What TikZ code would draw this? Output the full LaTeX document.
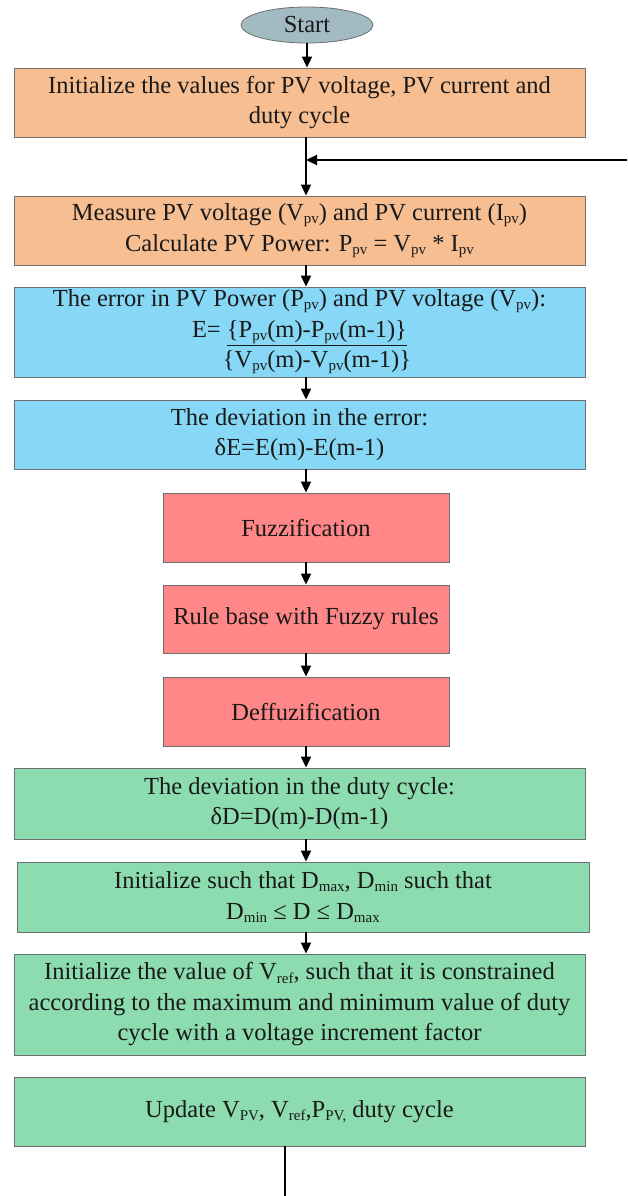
\documentclass[tikz,border=0pt]{standalone}
\usepackage{fontspec}
\setmainfont{Liberation Serif}
\usetikzlibrary{arrows.meta,shapes.geometric}
\definecolor{cOrange}{RGB}{247,190,146}
\definecolor{cBlue}{RGB}{135,216,246}
\definecolor{cRed}{RGB}{255,135,135}
\definecolor{cGreen}{RGB}{140,220,176}
\definecolor{cStart}{RGB}{162,186,193}
\definecolor{cBorder}{RGB}{110,110,110}
\newcommand{\sub}[1]{\raisebox{-0.28ex}{\fontsize{15}{15}\selectfont #1}}
\tikzset{
  box/.style={draw=cBorder, line width=0.8pt, align=center, inner sep=1pt,
    font=\fontsize{24.5}{30.5}\selectfont, text=black!90},
  widebox/.style={box, minimum width=571pt},
  redbox/.style={box, fill=cRed, minimum width=286pt},
  arr/.style={line width=1.8pt, -{Triangle[length=11pt,width=10pt]}},
  plain/.style={line width=1.8pt}
}
\begin{document}
\begin{tikzpicture}[x=1pt,y=-1pt]
\useasboundingbox (0,0) rectangle (627,1196);
\coordinate (ax) at (306,0);
\coordinate (fb) at (627,160);
\coordinate (endb) at (285,1196);

\node[box, ellipse, fill=cStart, minimum width=132pt, minimum height=36pt, inner sep=0pt] (start) at (307,25) {Start};

\node[widebox, fill=cOrange, minimum height=69pt] (b1) at (299.5,102.5)
  {Initialize the values for PV voltage, PV current and\\ duty cycle};
\node[widebox, fill=cOrange, minimum height=69pt] (b2) at (299.5,230.5)
  {Measure PV voltage (V\sub{pv}) and PV current (I\sub{pv})\\ Calculate PV Power: P\sub{pv} = V\sub{pv} * I\sub{pv}};
\node[widebox, fill=cBlue, minimum height=90pt] (b3) at (299.5,332)
  {The error in PV Power (P\sub{pv}) and PV voltage (V\sub{pv}):\\
   E= \underline{\{P\sub{pv}(m)-P\sub{pv}(m-1)\}}\\
   \phantom{E= }\{V\sub{pv}(m)-V\sub{pv}(m-1)\}};
\node[widebox, fill=cBlue, minimum height=69pt] (b4) at (299.5,434.5)
  {The deviation in the error:\\ δE=E(m)-E(m-1)};
\node[redbox, minimum height=69pt] (b5) at (306,527.5) {Fuzzification};
\node[redbox, minimum height=68pt] (b6) at (306,619) {Rule base with Fuzzy rules};
\node[redbox, minimum height=69pt] (b7) at (306,711.5) {Deffuzification};
\node[widebox, fill=cGreen, minimum height=71pt] (b8) at (299.5,803.5)
  {The deviation in the duty cycle:\\ δD=D(m)-D(m-1)};
\node[widebox, fill=cGreen, minimum width=572pt, minimum height=70pt] (b9) at (303,897)
  {Initialize such that D\sub{max}, D\sub{min} such that\\ D\sub{min} ≤ D ≤ D\sub{max}};
\node[widebox, fill=cGreen, minimum height=101pt] (b10) at (299.5,1004.5)
  {Initialize the value of V\sub{ref}, such that it is constrained\\ according to the maximum and minimum value of duty\\ cycle with a voltage increment factor};
\node[widebox, fill=cGreen, minimum height=69pt] (b11) at (299.5,1111.5)
  {Update V\sub{PV}, V\sub{ref},P\sub{PV,} duty cycle};

\draw[arr] (start.south) -- (b1.north -| start.south);
\draw[arr] (b1.south -| ax) -- (b2.north -| ax);
\draw[arr] (fb) -- (fb -| ax);
\draw[arr] (b2.south -| ax) -- (b3.north -| ax);
\draw[arr] (b3.south -| ax) -- (b4.north -| ax);
\draw[arr] (b4.south -| ax) -- (b5.north -| ax);
\draw[arr] (b5.south -| ax) -- (b6.north -| ax);
\draw[arr] (b6.south -| ax) -- (b7.north -| ax);
\draw[arr] (b7.south -| ax) -- (b8.north -| ax);
\draw[arr] (b8.south -| ax) -- (b9.north -| ax);
\draw[arr] (b9.south -| ax) -- (b10.north -| ax);
\draw[plain] (b11.south -| endb) -- (endb);
\end{tikzpicture}
\end{document}
